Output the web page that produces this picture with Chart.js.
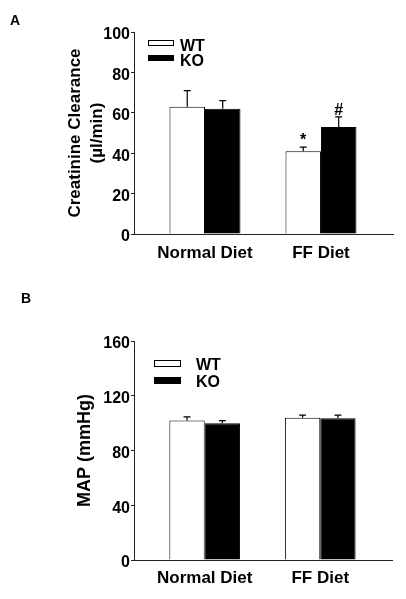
<!DOCTYPE html>
<html>
<head>
<meta charset="utf-8">
<script src="https://cdn.jsdelivr.net/npm/chart.js@4"></script>
<style>
  html, body { margin: 0; padding: 0; background: #fff; }
  #page { position: relative; width: 406px; height: 599px; }
  .panel { position: absolute; left: 0; width: 406px; }
  .letter { position: absolute; font: bold 14px Arial, "Liberation Sans", sans-serif; color: #000; }
</style>
</head>
<body>
<div id="page">
  <div class="panel" style="top:0;height:280px"><canvas id="chartA" width="406" height="280"></canvas></div>
  <div class="panel" style="top:280px;height:319px"><canvas id="chartB" width="406" height="319"></canvas></div>
  <div class="letter" style="left:10px;top:12px">A</div>
  <div class="letter" style="left:21px;top:290px">B</div>
</div>
<script>
// data
const categories = ["Normal Diet", "FF Diet"];
const seriesNames = ["WT", "KO"];

// A: creatinine clearance (µl/min)
const ccWT = [63, 41];
const ccWTErr = [8, 2];
const ccKO = [62, 53];
const ccKOErr = [4, 5];
const ccMarksWT = ["", "*"];
const ccMarksKO = ["", "#"];
const ccTicks = [0, 20, 40, 60, 80, 100];

// B: mean arterial pressure (mmHg)
const mapWT = [102, 104];
const mapWTErr = [2.5, 1.8];
const mapKO = [100, 103.5];
const mapKOErr = [1.8, 2.3];
const mapTicks = [0, 40, 80, 120, 160];

const FONT = 'Arial, "Liberation Sans", sans-serif';
const INK = "#000";
const AXIS = "#222";

// error whiskers (upward only) + significance marks
const errorBars = {
  id: "errorBars",
  afterDatasetsDraw(chart, args, opts) {
    const ctx = chart.ctx;
    const y = chart.scales.y;
    chart.data.datasets.forEach((ds, i) => {
      chart.getDatasetMeta(i).data.forEach((bar, j) => {
        const top = y.getPixelForValue(ds.data[j].y + ds.errors[j]);
        ctx.save();
        ctx.strokeStyle = INK;
        ctx.lineWidth = 1.2;
        ctx.beginPath();
        ctx.moveTo(bar.x, bar.y);
        ctx.lineTo(bar.x, top);
        ctx.moveTo(bar.x - opts.cap, top);
        ctx.lineTo(bar.x + opts.cap, top);
        ctx.stroke();
        if (ds.marks && ds.marks[j]) {
          ctx.fillStyle = INK;
          ctx.font = "bold 16px " + FONT;
          ctx.textAlign = "center";
          ctx.textBaseline = "alphabetic";
          ctx.fillText(ds.marks[j], bar.x, top - 2);
        }
        ctx.restore();
      });
    });
  },
};

// legend: flat boxes with labels, placed inside the plot
const boxLegend = {
  id: "boxLegend",
  afterDraw(chart, args, o) {
    const { ctx, chartArea } = chart;
    chart.data.datasets.forEach((ds, i) => {
      const x = chartArea.left + o.x;
      const y = chartArea.top + o.y + i * o.gap;
      ctx.save();
      ctx.fillStyle = ds.backgroundColor;
      ctx.fillRect(x, y, o.w, o.h);
      ctx.strokeStyle = INK;
      ctx.lineWidth = 1;
      ctx.strokeRect(x + 0.5, y + 0.5, o.w - 1, o.h - 1);
      ctx.fillStyle = INK;
      ctx.font = "bold 16px " + FONT;
      ctx.textBaseline = "middle";
      ctx.fillText(ds.label, x + o.w + o.tx, y + o.h / 2 + o.ty);
      ctx.restore();
    });
  },
};

function makeBars(canvasId, p) {
  const pts = (vals) => categories.map((c, i) => ({ x: i, y: vals[i] }));
  return new Chart(document.getElementById(canvasId), {
    type: "bar",
    data: {
      datasets: [
        {
          label: seriesNames[0],
          data: pts(p.wt),
          errors: p.wtErr,
          marks: p.wtMarks,
          backgroundColor: "#fff",
          borderColor: INK,
          borderWidth: 1,
        },
        {
          label: seriesNames[1],
          data: pts(p.ko),
          errors: p.koErr,
          marks: p.koMarks,
          backgroundColor: INK,
          borderColor: INK,
          borderWidth: 1,
        },
      ],
    },
    options: {
      responsive: false,
      animation: false,
      devicePixelRatio: 1,
      barPercentage: 1,
      categoryPercentage: 0.612,
      layout: { padding: { left: 0, right: p.padRight, top: p.padTop, bottom: 0 } },
      plugins: {
        legend: { display: false },
        tooltip: { enabled: false },
        errorBars: { cap: 3.5 },
        boxLegend: p.legend,
      },
      scales: {
        x: {
          // linear index axis so the two groups sit where they do in the figure
          type: "linear",
          offset: false,
          min: -0.612,
          max: 1.621,
          afterBuildTicks: (s) => {
            s.ticks = categories.map((c, i) => ({ value: i }));
          },
          ticks: {
            callback: (v) => categories[v],
            color: INK,
            font: { family: FONT, size: 17, weight: "bold" },
            padding: p.xPad,
            maxRotation: 0,
            autoSkip: false,
          },
          grid: { display: false, drawTicks: false, offset: false },
          border: { color: AXIS, width: 1 },
          afterFit: (s) => {
            s.height = p.xHeight;
          },
        },
        y: {
          min: p.ticks[0],
          max: p.ticks[p.ticks.length - 1],
          afterBuildTicks: (s) => {
            s.ticks = p.ticks.map((v) => ({ value: v }));
          },
          ticks: {
            color: INK,
            font: { family: FONT, size: 16, weight: "bold" },
            padding: 1,
            labelOffset: 3,
          },
          grid: { display: true, drawOnChartArea: false, tickLength: 3, color: AXIS },
          border: { color: AXIS, width: 1 },
          title: {
            display: true,
            text: p.title,
            color: INK,
            font: { family: FONT, size: p.titleSize, weight: "bold", lineHeight: "22px" },
            padding: { top: p.titlePad, bottom: 0 },
          },
          afterFit: (s) => {
            s.width = 134;
          },
        },
      },
    },
    plugins: [errorBars, boxLegend],
  });
}

makeBars("chartA", {
  wt: ccWT, wtErr: ccWTErr, wtMarks: ccMarksWT,
  ko: ccKO, koErr: ccKOErr, koMarks: ccMarksKO,
  ticks: ccTicks,
  title: ["Creatinine Clearance", "(\u00b5l/min)"],
  titleSize: 17,
  titlePad: 64,
  padTop: 32,
  padRight: 13,
  xHeight: 46,
  xPad: 9,
  legend: { x: 14, y: 8, gap: 15, w: 26, h: 6, tx: 6, ty: 3.5 },
});

makeBars("chartB", {
  wt: mapWT, wtErr: mapWTErr, wtMarks: null,
  ko: mapKO, koErr: mapKOErr, koMarks: null,
  ticks: mapTicks,
  title: "MAP (mmHg)",
  titleSize: 18,
  titlePad: 74,
  padTop: 61,
  padRight: 14,
  xHeight: 39,
  xPad: 8,
  legend: { x: 20, y: 19, gap: 17, w: 27, h: 7, tx: 15, ty: 2.5 },
});
</script>
</body>
</html>
